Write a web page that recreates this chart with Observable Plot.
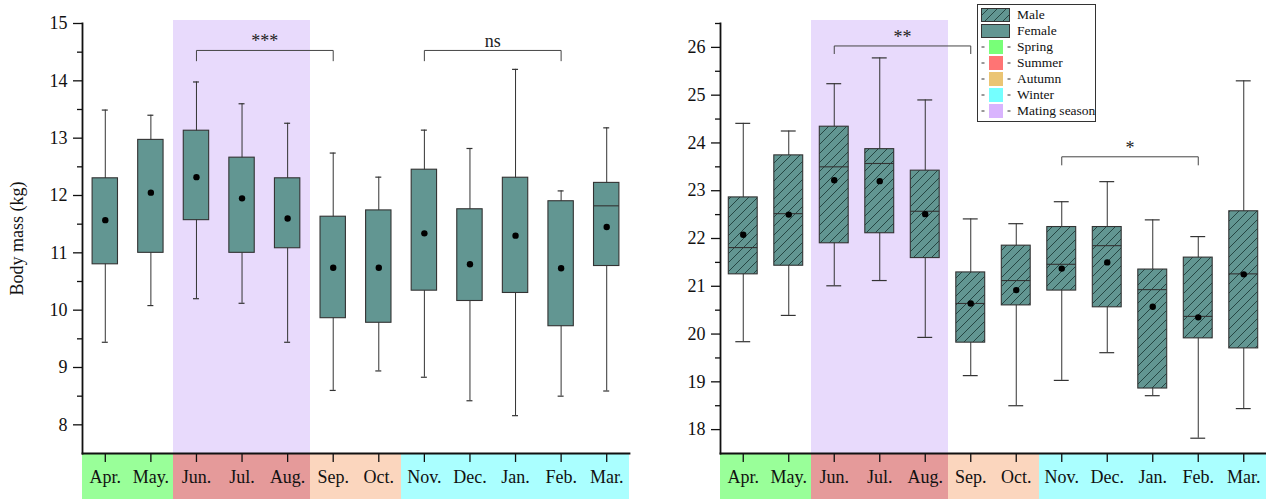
<!DOCTYPE html>
<html>
<head>
<meta charset="utf-8">
<script src="https://cdn.jsdelivr.net/npm/d3@7"></script>
<script src="https://cdn.jsdelivr.net/npm/@observablehq/plot@0.6"></script>
<style>
  body { margin: 0; background: #fff; }
  #wrap { position: relative; width: 1266px; height: 499px; overflow: hidden; font-family: "Liberation Serif", "Times New Roman", serif; }
  #left { position: absolute; left: 0; top: 0; }
  #right { position: absolute; left: 640px; top: 0; }
  #legend { position: absolute; left: 977px; top: 4px; width: 117px; height: 116px; border: 1px solid #333; background: #fff; font-size: 13.5px; color: #111; }
  #legend .row { position: absolute; left: 0; height: 16px; width: 100%; }
  #legend .row svg { position: absolute; left: 2px; top: 1px; }
  #legend .row span { position: absolute; left: 39px; top: 0; line-height: 16px; white-space: nowrap; }
</style>
</head>
<body>
<div id="wrap">
  <svg width="0" height="0" style="position:absolute">
    <defs>
      <pattern id="hatch" patternUnits="userSpaceOnUse" width="9" height="9">
        <rect width="9" height="9" fill="#629692"></rect>
        <path d="M-2,2 L2,-2 M0,9 L9,0 M7,11 L11,7" stroke="#1f3d3a" stroke-width="0.9"></path>
      </pattern>
    </defs>
  </svg>
  <div id="left"></div>
  <div id="right"></div>
  <div id="legend"></div>
</div>
<script>
// ---------- data ----------
const months = ["Apr.","May.","Jun.","Jul.","Aug.","Sep.","Oct.","Nov.","Dec.","Jan.","Feb.","Mar."];
const seasons = ["Spring","Spring","Summer","Summer","Summer","Autumn","Autumn","Winter","Winter","Winter","Winter","Winter"];
const matingMonths = ["Jun.","Jul.","Aug."];

// Female (left panel)
const femaleLow    = [9.44,10.08,10.20,10.12,9.44,8.60,8.94,8.83,8.42,8.16,8.50,8.59];
const femaleQ1     = [10.80,11.00,11.57,11.00,11.08,9.86,9.78,10.34,10.16,10.30,9.72,10.77];
const femaleMedian = [null,null,null,null,null,null,null,null,null,null,null,11.82];
const femaleQ3     = [12.30,12.97,13.13,12.66,12.30,11.63,11.74,12.45,11.76,12.31,11.90,12.22];
const femaleHigh   = [13.49,13.40,13.98,13.60,13.26,12.74,12.32,13.14,12.82,14.20,12.08,13.18];
const femaleMean   = [11.57,12.05,12.32,11.95,11.60,10.74,10.74,11.34,10.80,11.30,10.73,11.45];

// Male (right panel)
const maleLow    = [19.84,20.39,21.01,21.12,19.93,19.13,18.50,19.03,19.61,18.71,17.82,18.44];
const maleQ1     = [21.25,21.43,21.90,22.11,21.59,19.82,20.60,20.91,20.56,18.86,19.91,19.70];
const maleMedian = [21.81,22.52,23.50,23.57,22.57,20.64,21.12,21.46,21.85,20.93,20.37,21.26];
const maleQ3     = [22.86,23.74,24.34,23.87,23.42,21.29,21.85,22.24,22.24,21.35,21.60,22.57];
const maleHigh   = [24.41,24.25,25.24,25.78,24.90,22.41,22.31,22.77,23.19,22.39,22.04,25.30];
const maleMean   = [22.08,22.50,23.22,23.20,22.51,20.64,20.92,21.37,21.50,20.57,20.35,21.25];

const femaleBrackets = [
  {from: "Jun.", to: "Sep.", y: 14.53, foot: 14.35, label: "***"},
  {from: "Nov.", to: "Feb.", y: 14.53, foot: 14.35, label: "ns"}
];
const maleBrackets = [
  {from: "Jun.", to: "Sep.", y: 26.03, foot: 25.87, label: "**"},
  {from: "Nov.", to: "Feb.", y: 23.71, foot: 23.54, label: "*"}
];

const femaleTicks = [8,9,10,11,12,13,14,15];
const femaleMinor = [8.5,9.5,10.5,11.5,12.5,13.5,14.5];
const maleTicks = [18,19,20,21,22,23,24,25,26];
const maleMinor = [18.5,19.5,20.5,21.5,22.5,23.5,24.5,25.5,26.5];

const yLabel = "Body mass (kg)";
const legendSex = ["Male","Female"];
const legendSeasons = ["Spring","Summer","Autumn","Winter","Mating season"];

// ---------- styles ----------
const seasonBarColor = {Spring: "#99ff99", Summer: "#e59a9a", Autumn: "#fbd6be", Winter: "#aaffff"};
const legendSeasonColors = ["#78ff78","#ff7474","#ebc574","#74ffff","#d9b4fe"];
const matingColor = "#e8dafc";
const boxColor = "#629692";
const lineColor = "#333";

function panel(cfg) {
  const rows = months.map((m, i) => ({
    month: m, season: seasons[i],
    low: cfg.low[i], q1: cfg.q1[i], median: cfg.median[i], q3: cfg.q3[i], high: cfg.high[i], mean: cfg.mean[i]
  }));
  const bw = (cfg.width - cfg.marginLeft - cfg.marginRight) / months.length;
  const bracketPts = cfg.brackets.flatMap((b, k) => [
    {id: k, x: b.from, y: b.foot}, {id: k, x: b.from, y: b.y},
    {id: k, x: b.to, y: b.y}, {id: k, x: b.to, y: b.foot}
  ]);
  const y0 = cfg.domain[0];
  return Plot.plot({
    width: cfg.width, height: 499,
    marginTop: 23, marginBottom: 46, marginLeft: cfg.marginLeft, marginRight: cfg.marginRight,
    style: {fontFamily: "'Liberation Serif', 'Times New Roman', serif", fontSize: "18px", color: "#111", background: "transparent", overflow: "visible"},
    x: {domain: months, padding: 0, round: false, axis: null, label: null},
    y: {domain: cfg.domain, axis: null, label: null},
    color: {type: "identity"},
    marks: [
      Plot.barY(rows, {x: "month", y1: y0, y2: cfg.seasonBottom, fill: d => seasonBarColor[d.season], shapeRendering: "crispEdges"}),
      Plot.barY(matingMonths, {x: d => d, y1: y0, y2: cfg.bandTop, fill: matingColor, shapeRendering: "crispEdges"}),
      Plot.axisY({ticks: cfg.ticks, tickSize: 9, tickPadding: 6, fontSize: 18, strokeWidth: 1.3,
        label: cfg.label, labelAnchor: "center", labelOffset: 72, labelArrow: "none"}),
      Plot.axisY({ticks: cfg.minor, tickSize: 5, tickFormat: () => "", strokeWidth: 1.3, label: null}),
      Plot.axisX({tickSize: 9, tickPadding: 8, fontSize: 18, strokeWidth: 1.3, label: null}),
      Plot.frame({anchor: "left", strokeWidth: 1.8}),
      Plot.frame({anchor: "bottom", strokeWidth: 1.8}),
      Plot.ruleX(rows, {x: "month", y1: "low", y2: "high", stroke: lineColor, strokeWidth: 1}),
      Plot.tickY(rows, {x: "month", y: "low", inset: cfg.capInset, stroke: lineColor, strokeWidth: 1.2}),
      Plot.tickY(rows, {x: "month", y: "high", inset: cfg.capInset, stroke: lineColor, strokeWidth: 1.2}),
      Plot.barY(rows, {x: "month", y1: "q1", y2: "q3", fill: cfg.fill, stroke: lineColor, strokeWidth: 1.1,
        insetLeft: cfg.boxInset, insetRight: cfg.boxInset}),
      Plot.tickY(rows.filter(d => d.median != null), {x: "month", y: "median", inset: cfg.boxInset, stroke: lineColor, strokeWidth: 1.1}),
      Plot.dot(rows, {x: "month", y: "mean", r: 3.2, fill: "#000", stroke: "none"}),
      Plot.line(bracketPts, {x: "x", y: "y", z: "id", stroke: "#444", strokeWidth: 1}),
      ...cfg.brackets.map(b => Plot.text([b], {
        x: "from", y: "y", text: "label", fontSize: 18, fill: "#222",
        dx: bw * (months.indexOf(b.to) - months.indexOf(b.from)) / 2, dy: -3, lineAnchor: "bottom"
      }))
    ]
  });
}

document.getElementById("left").append(panel({
  width: 640, marginLeft: 82, marginRight: 11,
  domain: [7.5, 15], bandTop: 15.06, seasonBottom: 6.6,
  ticks: femaleTicks, minor: femaleMinor, label: yLabel,
  low: femaleLow, q1: femaleQ1, median: femaleMedian, q3: femaleQ3, high: femaleHigh, mean: femaleMean,
  brackets: femaleBrackets, fill: boxColor, boxInset: 10.1, capInset: 19.8
}));

document.getElementById("right").append(panel({
  width: 626, marginLeft: 80, marginRight: 0,
  domain: [17.5, 26.5], bandTop: 26.57, seasonBottom: 16.5,
  ticks: maleTicks, minor: maleMinor, label: null,
  low: maleLow, q1: maleQ1, median: maleMedian, q3: maleQ3, high: maleHigh, mean: maleMean,
  brackets: maleBrackets, fill: "url(#hatch)", boxInset: 8.3, capInset: 15.3
}));

// ---------- legend ----------
const legend = document.getElementById("legend");
let rowIndex = 0;
legendSex.forEach(name => {
  const row = document.createElement("div");
  row.className = "row";
  row.style.top = (2 + rowIndex * 16) + "px";
  const fill = name === "Male" ? "url(#hatch)" : boxColor;
  row.innerHTML = `<svg width="30" height="14"><rect x="1.5" y="0.5" width="28" height="13" fill="${fill}" stroke="#333"></rect></svg><span>${name}</span>`;
  legend.append(row);
  rowIndex++;
});
legendSeasons.forEach((name, i) => {
  const row = document.createElement("div");
  row.className = "row";
  row.style.top = (2 + rowIndex * 16) + "px";
  row.innerHTML = `<svg width="32" height="14"><line x1="1.5" x2="4.5" y1="7" y2="7" stroke="#333"></line><rect x="9" y="0" width="14" height="14" fill="${legendSeasonColors[i]}"></rect><line x1="27.5" x2="30.5" y1="7" y2="7" stroke="#333"></line></svg><span>${name}</span>`;
  legend.append(row);
  rowIndex++;
});
</script>
</body>
</html>
